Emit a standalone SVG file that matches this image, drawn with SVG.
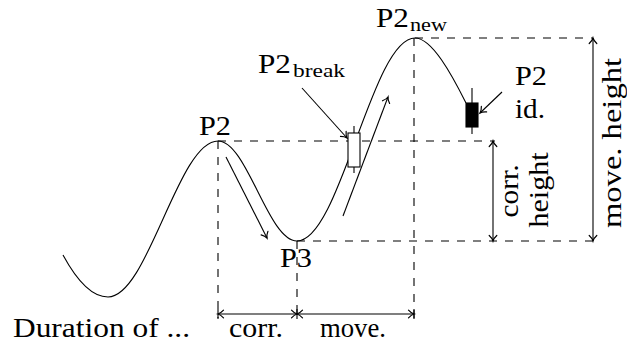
<svg xmlns="http://www.w3.org/2000/svg" width="627" height="344" viewBox="0 0 627 344">
<style>
  .ln { fill: none; stroke: #000; stroke-width: 1.1; }
  .dash { fill: none; stroke: #000; stroke-width: 1.1; stroke-dasharray: 8 8; }
  .arr { fill: none; stroke: #000; stroke-width: 1.1; marker-end: url(#tip); }
  .darr { fill: none; stroke: #000; stroke-width: 1.1; marker-end: url(#tip); marker-start: url(#tip); }
  text { font-family: 'Liberation Serif', 'DejaVu Serif', serif; font-size: 28px; fill: #000; }
  .sub { font-size: 19.5px; }
</style>
<defs>
  <marker id="tip" markerUnits="userSpaceOnUse" viewBox="-6 -5 7 10" refX="0" refY="0" markerWidth="7" markerHeight="10" orient="auto-start-reverse" overflow="visible">
    <path d="M -5.5,-3.8 C -3.6,-1.7 -1.5,-0.4 0,0 C -1.5,0.4 -3.6,1.7 -5.5,3.8" fill="none" stroke="#000" stroke-width="1.2" stroke-linecap="round"/>
  </marker>
</defs>

<g id="price-curve">
  <path class="ln" d="M 63,255 C 76,279 92,297 108,297 C 148,297 178,141 218,141 C 247,141 268,241 297,241 C 340,241 372,38 415,38 C 432,38 452,75 466,103"/>
</g>

<g id="connectors">
  <line class="dash" x1="218" y1="141" x2="495" y2="141"/>
  <line class="dash" x1="415" y1="38" x2="593" y2="38"/>
  <line class="dash" x1="297" y1="241" x2="593" y2="241"/>
  <line class="dash" x1="218" y1="141" x2="218" y2="318"/>
  <line class="dash" x1="297" y1="241" x2="297" y2="318"/>
  <line class="dash" x1="414" y1="38" x2="414" y2="318"/>
  <line class="arr" x1="226" y1="157" x2="267" y2="238"/>
  <line class="arr" x1="343" y1="216" x2="388" y2="97"/>
  <line class="arr" x1="302" y1="88" x2="347" y2="138"/>
  <line class="arr" x1="502" y1="92" x2="480" y2="113"/>
  <line class="darr" x1="493" y1="141" x2="493" y2="241"/>
  <line class="darr" x1="593" y1="38" x2="593" y2="241"/>
  <line class="darr" x1="218" y1="314" x2="297" y2="314"/>
  <line class="darr" x1="297" y1="314" x2="414" y2="314"/>
  <line class="ln" x1="218" y1="309" x2="218" y2="319"/>
  <line class="ln" x1="297" y1="309" x2="297" y2="319"/>
  <line class="ln" x1="414" y1="309" x2="414" y2="319"/>
</g>

<g id="candle-break">
  <line class="ln" x1="354" y1="126" x2="354" y2="173"/>
  <rect x="348" y="133" width="12" height="34" fill="#fff" stroke="#000" stroke-width="1.1"/>
</g>

<g id="candle-id">
  <line class="ln" x1="472" y1="88" x2="472" y2="134"/>
  <rect x="466" y="103" width="12" height="24" fill="#000" stroke="#000" stroke-width="1.1"/>
</g>

<g id="label-p2">
  <text x="199" y="135" textLength="32" lengthAdjust="spacingAndGlyphs">P2</text>
</g>
<g id="label-p3">
  <text x="280" y="267" textLength="32" lengthAdjust="spacingAndGlyphs">P3</text>
</g>
<g id="label-p2break">
  <text x="258" y="73"><tspan textLength="33" lengthAdjust="spacingAndGlyphs">P2</tspan><tspan class="sub" x="293" dy="4" textLength="52" lengthAdjust="spacingAndGlyphs">break</tspan></text>
</g>
<g id="label-p2new">
  <text x="376" y="27"><tspan textLength="33" lengthAdjust="spacingAndGlyphs">P2</tspan><tspan class="sub" x="410" dy="4" textLength="37" lengthAdjust="spacingAndGlyphs">new</tspan></text>
</g>
<g id="label-p2id">
  <text x="515" y="85" textLength="32" lengthAdjust="spacingAndGlyphs">P2</text>
  <text x="515" y="118" textLength="30" lengthAdjust="spacingAndGlyphs">id.</text>
</g>
<g id="label-corr-height">
  <text transform="translate(518,191) rotate(-90)" text-anchor="middle" textLength="53" lengthAdjust="spacingAndGlyphs">corr.</text>
  <text transform="translate(548,190) rotate(-90)" text-anchor="middle" textLength="75" lengthAdjust="spacingAndGlyphs">height</text>
</g>
<g id="label-move-height">
  <text transform="translate(621,143) rotate(-90)" text-anchor="middle" textLength="170" lengthAdjust="spacingAndGlyphs">move. height</text>
</g>
<g id="label-duration">
  <text x="13" y="337" textLength="177" lengthAdjust="spacingAndGlyphs">Duration of ...</text>
</g>
<g id="label-corr">
  <text x="229" y="337" textLength="54" lengthAdjust="spacingAndGlyphs">corr.</text>
</g>
<g id="label-move">
  <text x="320" y="337" textLength="66" lengthAdjust="spacingAndGlyphs">move.</text>
</g>
</svg>
